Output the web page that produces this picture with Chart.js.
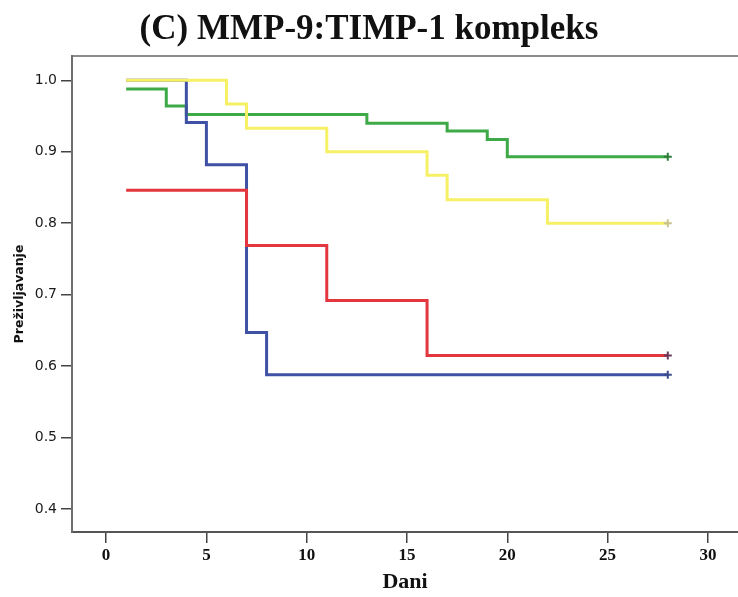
<!DOCTYPE html>
<html>
<head>
<meta charset="utf-8">
<script src="https://cdn.jsdelivr.net/npm/chart.js@4"></script>
<style>
  body { margin: 0; background: #fff; }
  #wrap { width: 738px; height: 597px; }
</style>
</head>
<body>
<div id="wrap"><canvas id="km" width="738" height="597"></canvas></div>
<script>
// survival curves (day of event, survival after the event)
const greenDays = [1, 3, 4, 13, 17, 19, 20, 28];
const greenSurv = [0.988, 0.964, 0.952, 0.940, 0.929, 0.917, 0.893, 0.893];
const yellowDays = [1, 6, 7, 11, 16, 17, 22, 28];
const yellowSurv = [1.0, 0.967, 0.933, 0.900, 0.867, 0.833, 0.800, 0.800];
const blueDays = [1, 4, 5, 7, 8, 28];
const blueSurv = [1.0, 0.941, 0.882, 0.647, 0.588, 0.588];
const redDays = [1, 7, 11, 16, 28];
const redSurv = [0.846, 0.769, 0.692, 0.615, 0.615];

const dayTicks = [0, 5, 10, 15, 20, 25, 30];
const survTicks = [0.4, 0.5, 0.6, 0.7, 0.8, 0.9, 1.0];

function curve (days, surv, color, markColor) {
    const last = days.length - 1;
    return {
        data: days.map((d, i) => ({ x: d, y: surv[i] })),
        borderColor: color,
        borderWidth: 3,
        stepped: 'before',
        fill: false,
        pointStyle: 'cross',
        pointRadius: days.map((d, i) => i === last ? 4 : 0),
        pointBorderColor: markColor,
        pointBorderWidth: 2,
        pointHoverRadius: 0
    };
}

const serif = "'Liberation Serif', 'Times New Roman', serif";
const sans = "'DejaVu Sans', Verdana, sans-serif";

new Chart(document.getElementById('km'), {
    type: 'line',
    data: {
        datasets: [
            curve(redDays, redSurv, '#e4363e', '#6a3a5e'),
            curve(yellowDays, yellowSurv, '#f6f064', '#c8c28c'),
            curve(blueDays, blueSurv, '#3f51a5', '#3a4a8c'),
            curve(greenDays, greenSurv, '#3daa47', '#2e7d3a')
        ]
    },
    options: {
        responsive: false,
        animation: false,
        layout: { padding: 0, autoPadding: false },
        plugins: {
            legend: { display: false },
            tooltip: { enabled: false },
            title: {
                display: true,
                text: '(C) MMP-9:TIMP-1 kompleks',
                color: '#111',
                font: { family: serif, size: 35, weight: 'bold' },
                padding: { top: 9, bottom: 5 }
            }
        },
        scales: {
            x: {
                type: 'linear',
                min: -1.7,
                max: 31.5,
                afterBuildTicks: s => { s.ticks = dayTicks.map(v => ({ value: v })); },
                afterFit: s => { s.height = 65; },
                ticks: {
                    color: '#111',
                    padding: 2,
                    font: { family: serif, size: 17, weight: 'bold' }
                },
                grid: { display: true, drawOnChartArea: false, drawTicks: true, tickLength: 11, color: '#444', lineWidth: 1.5 },
                border: { display: true, color: '#555', width: 2 },
                title: {
                    display: true,
                    text: 'Dani',
                    color: '#111',
                    font: { family: serif, size: 22, weight: 'bold' },
                    padding: { top: 0, bottom: 1 }
                }
            },
            xTop: {
                type: 'linear',
                position: 'top',
                min: -1.7,
                max: 31.5,
                afterFit: s => { s.height = 0; },
                ticks: { display: false },
                grid: { display: false },
                border: { display: true, color: '#8c8c8c', width: 2 }
            },
            y: {
                min: 0.368,
                max: 1.034,
                afterBuildTicks: s => { s.ticks = survTicks.map(v => ({ value: v })); },
                afterFit: s => { s.width = 72; },
                ticks: {
                    color: '#1a1a1a',
                    padding: 4,
                    font: { family: sans, size: 14 },
                    callback: v => v.toFixed(1)
                },
                grid: { display: true, drawOnChartArea: false, drawTicks: true, tickLength: 11, color: '#444', lineWidth: 1.5 },
                border: { display: true, color: '#6e6e6e', width: 2 },
                title: {
                    display: true,
                    text: 'Preživljavanje',
                    color: '#111',
                    font: { family: sans, size: 12.5, weight: 'bold' },
                    padding: { top: 12, bottom: 0 }
                }
            }
        }
    }
});
</script>
</body>
</html>
